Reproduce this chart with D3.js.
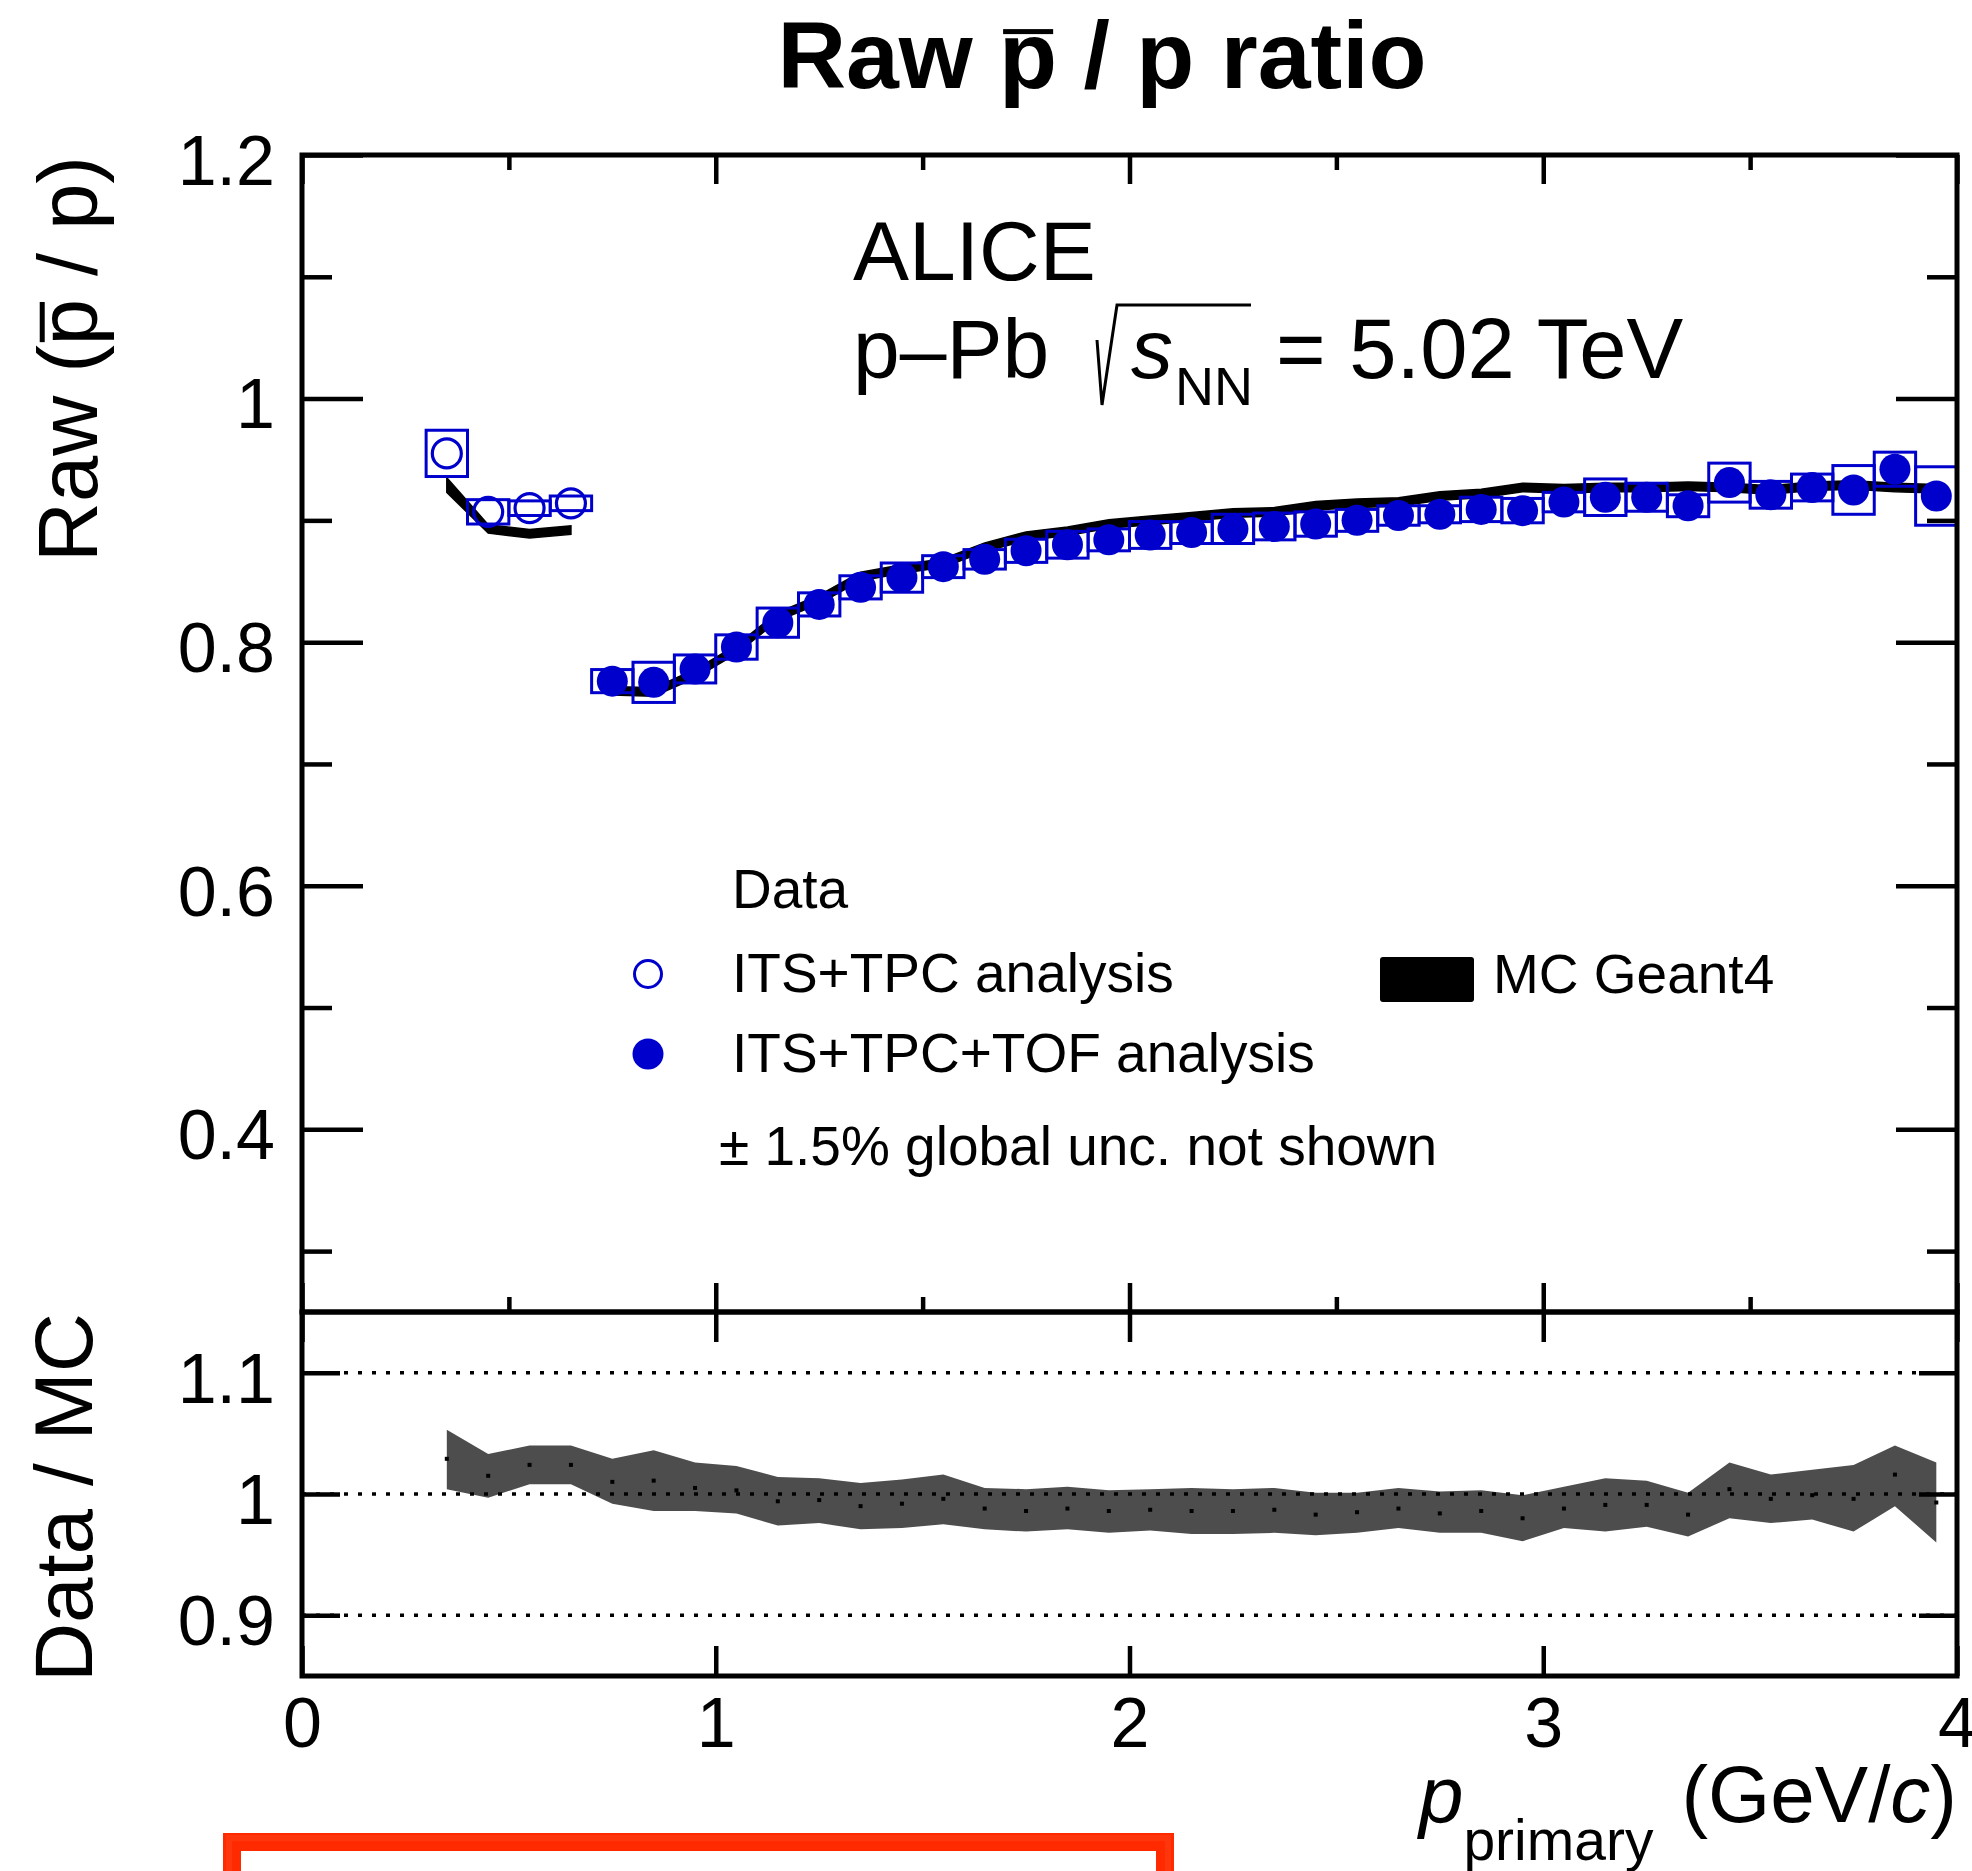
<!DOCTYPE html>
<html><head><meta charset="utf-8">
<script src="https://cdn.jsdelivr.net/npm/d3@7"></script>
<style>body{margin:0;background:#fff} svg{display:block}</style>
</head><body>
<svg id="c" width="1972" height="1871"></svg>
<script>
// ---------------- DATA ----------------
// ITS+TPC analysis (open circles)
const pOpen      = [0.35, 0.45, 0.55, 0.65];
const ratioOpen  = [0.955, 0.907, 0.910, 0.914];
const sysOpen    = [0.019, 0.010, 0.006, 0.006];
// ITS+TPC+TOF analysis (filled circles)
const pFilled = [0.75,0.85,0.95,1.05,1.15,1.25,1.35,1.45,1.55,1.65,1.75,1.85,1.95,2.05,2.15,2.25,2.35,
                 2.45,2.55,2.65,2.75,2.85,2.95,3.05,3.15,3.25,3.35,3.45,3.55,3.65,3.75,3.85,3.95];
const ratioFilled = [0.768,0.767,0.778,0.796,0.816,0.831,0.845,0.853,0.862,0.868,0.875,0.880,0.884,0.888,0.890,0.893,0.895,
                     0.897,0.900,0.904,0.905,0.909,0.908,0.915,0.919,0.919,0.912,0.931,0.921,0.927,0.925,0.942,0.920];
const sysFilled = [0.0095,0.0165,0.0115,0.010,0.012,0.0095,0.0095,0.012,0.009,0.008,0.0095,0.011,0.009,0.011,0.009,0.012,0.011,
                   0.010,0.009,0.008,0.007,0.010,0.010,0.008,0.015,0.0115,0.009,0.016,0.011,0.011,0.020,0.014,0.024];
// MC Geant4 band
const mcOpen     = [0.929, 0.893, 0.889, 0.892];
const mcOpenErr  = [0.006, 0.0035, 0.0035, 0.0035];
const mcFilled   = [0.760,0.759,0.774,0.794,0.821,0.835,0.854,0.860,0.865,0.878,0.887,0.891,0.897,0.900,0.903,0.906,0.907,
                    0.912,0.914,0.915,0.920,0.922,0.927,0.926,0.927,0.927,0.928,0.927,0.925,0.928,0.929,0.927,0.926];
const mcFilledErr = 0.0035;
// Data / MC ratio
const pRatio = [0.35,0.45,0.55,0.65,0.75,0.85,0.95,1.05,1.15,1.25,1.35,1.45,1.55,1.65,1.75,1.85,1.95,2.05,2.15,
                2.25,2.35,2.45,2.55,2.65,2.75,2.85,2.95,3.05,3.15,3.25,3.35,3.45,3.55,3.65,3.75,3.85,3.95];
const dmVal  = [1.029,1.015,1.024,1.024,1.010,1.011,1.005,1.003,0.994,0.995,0.990,0.992,0.996,0.988,0.986,0.988,0.986,0.987,0.986,
                0.986,0.987,0.983,0.985,0.988,0.984,0.986,0.980,0.988,0.991,0.991,0.983,1.004,0.996,0.999,0.996,1.016,0.993];
const dmHigh = [1.053,1.033,1.040,1.040,1.029,1.036,1.026,1.023,1.014,1.013,1.009,1.012,1.016,1.005,1.004,1.006,1.003,1.004,1.005,
                1.004,1.005,1.001,1.001,1.005,1.002,1.003,0.999,1.006,1.013,1.011,1.001,1.026,1.016,1.020,1.024,1.040,1.026];
const dmLow  = [1.004,0.997,1.008,1.008,0.992,0.986,0.986,0.984,0.974,0.976,0.971,0.972,0.975,0.971,0.969,0.971,0.968,0.970,0.967,
                0.967,0.968,0.966,0.968,0.972,0.968,0.968,0.961,0.972,0.969,0.973,0.965,0.980,0.976,0.979,0.969,0.990,0.960];
// Axis ticks
const xMajor = [0,1,2,3,4];
const xMinor = [0.5,1.5,2.5,3.5];
const yTopMajor = [0.4,0.6,0.8,1,1.2];
const yTopMinor = [0.3,0.5,0.7,0.9,1.1];
const yBotMajor = [0.9,1,1.1];
const xTickLabels = ["0","1","2","3","4"];
const yTopLabels = ["0.4","0.6","0.8","1","1.2"];
const yBotLabels = ["0.9","1","1.1"];

// ---------------- DRAW ----------------
const FONT = '"Liberation Sans", Arial, Helvetica, sans-serif';
const BLUE = "#0000cc";
const svg = d3.select("#c");
svg.append("rect").attr("width",1972).attr("height",1871).attr("fill","#fff");

const x  = d3.scaleLinear().domain([0,4]).range([302,1957]);
const yT = d3.scaleLinear().domain([0.25,1.2]).range([1312,155]);
const yB = d3.scaleLinear().domain([0.85,1.15]).range([1676,1312]);

// --- top panel: MC band
function band(xs, v, e, ys){
  const idx = d3.range(xs.length);
  return d3.area().x(i=>x(xs[i]))
    .y0(i=>ys(v[i]-(Array.isArray(e)?e[i]:e)))
    .y1(i=>ys(v[i]+(Array.isArray(e)?e[i]:e)))(idx);
}
svg.append("path").attr("d", band(pOpen, mcOpen, mcOpenErr, yT)).attr("fill","#000").attr("stroke","#000").attr("stroke-width",1.5);
svg.append("path").attr("d", band(pFilled, mcFilled, mcFilledErr, yT)).attr("fill","#000").attr("stroke","#000").attr("stroke-width",1.5);

// --- systematic boxes
function boxes(ps, vs, ss){
  svg.append("g").selectAll("rect").data(ps).join("rect")
    .attr("x",(p)=>x(p-0.05)).attr("width",(p)=>x(p+0.05)-x(p-0.05))
    .attr("y",(p,i)=>yT(vs[i]+ss[i])).attr("height",(p,i)=>yT(vs[i]-ss[i])-yT(vs[i]+ss[i]))
    .attr("fill","none").attr("stroke",BLUE).attr("stroke-width",3);
}
boxes(pOpen, ratioOpen, sysOpen);
boxes(pFilled, ratioFilled, sysFilled);

// --- markers
svg.append("g").selectAll("circle").data(pOpen).join("circle")
  .attr("cx",p=>x(p)).attr("cy",(p,i)=>yT(ratioOpen[i])).attr("r",14.5)
  .attr("fill","#fff").attr("fill-opacity",0).attr("stroke",BLUE).attr("stroke-width",3.2);
svg.append("g").selectAll("circle").data(pFilled).join("circle")
  .attr("cx",p=>x(p)).attr("cy",(p,i)=>yT(ratioFilled[i])).attr("r",15.5)
  .attr("fill",BLUE);

// --- bottom panel: ratio band
svg.append("path").attr("d", d3.area().x(i=>x(pRatio[i])).y0(i=>yB(dmLow[i])).y1(i=>yB(dmHigh[i]))(d3.range(pRatio.length)))
  .attr("fill","#4d4d4d");
// dotted reference lines
svg.append("g").selectAll("line").data(yBotMajor).join("line")
  .attr("x1",x(0)).attr("x2",x(4)).attr("y1",d=>yB(d)).attr("y2",d=>yB(d))
  .attr("stroke","#000").attr("stroke-width",3.5).attr("stroke-dasharray","4,10");
// ratio central points
svg.append("g").selectAll("rect").data(pRatio).join("rect")
  .attr("x",p=>x(p)-2).attr("y",(p,i)=>yB(dmVal[i])-2).attr("width",4).attr("height",4).attr("fill","#000");

// --- axes
function styleAxis(g, showLabels){
  g.select(".domain").remove();
  g.selectAll(".tick line").attr("stroke","#000").attr("stroke-width",4.5);
  g.selectAll("text").attr("font-family",FONT).attr("font-size",70).attr("fill","#000");
  if(!showLabels) g.selectAll("text").remove();
}
const fmt = (vals, labs) => (d => labs[vals.indexOf(d)]);
// top panel
let g;
g = svg.append("g").attr("transform","translate(302,0)")
  .call(d3.axisLeft(yT).tickValues(yTopMajor).tickSize(-61).tickPadding(27).tickFormat(fmt(yTopMajor,yTopLabels)));
styleAxis(g,true); g.selectAll("text").attr("dy","0.42em");
g = svg.append("g").attr("transform","translate(302,0)").call(d3.axisLeft(yT).tickValues(yTopMinor).tickSize(-30));
styleAxis(g,false);
g = svg.append("g").attr("transform","translate(1957,0)").call(d3.axisRight(yT).tickValues(yTopMajor).tickSize(-61));
styleAxis(g,false);
g = svg.append("g").attr("transform","translate(1957,0)").call(d3.axisRight(yT).tickValues(yTopMinor).tickSize(-30));
styleAxis(g,false);
g = svg.append("g").attr("transform","translate(0,155)").call(d3.axisTop(x).tickValues(xMajor).tickSize(-29));
styleAxis(g,false);
g = svg.append("g").attr("transform","translate(0,155)").call(d3.axisTop(x).tickValues(xMinor).tickSize(-15));
styleAxis(g,false);
g = svg.append("g").attr("transform","translate(0,1312)").call(d3.axisBottom(x).tickValues(xMajor).tickSize(-29));
styleAxis(g,false);
g = svg.append("g").attr("transform","translate(0,1312)").call(d3.axisBottom(x).tickValues(xMinor).tickSize(-15));
styleAxis(g,false);
// bottom panel
g = svg.append("g").attr("transform","translate(302,0)")
  .call(d3.axisLeft(yB).tickValues(yBotMajor).tickSize(-38).tickPadding(27).tickFormat(fmt(yBotMajor,yBotLabels)));
styleAxis(g,true); g.selectAll("text").attr("dy","0.42em");
g = svg.append("g").attr("transform","translate(1957,0)").call(d3.axisRight(yB).tickValues(yBotMajor).tickSize(-38));
styleAxis(g,false);
g = svg.append("g").attr("transform","translate(0,1312)").call(d3.axisTop(x).tickValues(xMajor).tickSize(-30));
styleAxis(g,false);
g = svg.append("g").attr("transform","translate(0,1676)")
  .call(d3.axisBottom(x).tickValues(xMajor).tickSize(-30).tickPadding(21).tickFormat(fmt(xMajor,xTickLabels)));
styleAxis(g,true);

// frames
svg.append("rect").attr("x",x(0)).attr("y",yT(1.2)).attr("width",x(4)-x(0)).attr("height",yT(0.25)-yT(1.2))
  .attr("fill","none").attr("stroke","#000").attr("stroke-width",5);
svg.append("rect").attr("x",x(0)).attr("y",yB(1.15)).attr("width",x(4)-x(0)).attr("height",yB(0.85)-yB(1.15))
  .attr("fill","none").attr("stroke","#000").attr("stroke-width",5);

// --- texts
function txt(parent, s, xx, yy, size, opts={}){
  const t = parent.append("text").attr("x",xx).attr("y",yy).attr("font-family",FONT).attr("font-size",size)
    .attr("fill","#000").text(s);
  if(opts.anchor) t.attr("text-anchor",opts.anchor);
  if(opts.bold) t.attr("font-weight","bold");
  if(opts.italic) t.attr("font-style","italic");
  return t;
}
// Title with overline on the first p
const title = txt(svg, "Raw p / p ratio", 1102, 88, 95, {anchor:"middle", bold:true});
{
  const n = title.node();
  const a = n.getStartPositionOfChar(4), b = n.getEndPositionOfChar(4);
  svg.append("rect").attr("x",a.x+4).attr("y",88-0.62*95).attr("width",b.x-a.x-8).attr("height",5).attr("fill","#000");
}
// Y title top panel
{
  const gy = svg.append("g").attr("transform","translate(97,156) rotate(-90)");
  const t = txt(gy, "Raw (p / p)", 0, 0, 83, {anchor:"end"});
  const n = t.node();
  const a = n.getStartPositionOfChar(5), b = n.getEndPositionOfChar(5);
  gy.append("rect").attr("x",a.x+3).attr("y",-0.66*83-2.5).attr("width",b.x-a.x-6).attr("height",5).attr("fill","#000");
}
// Y title bottom panel
{
  const gy = svg.append("g").attr("transform","translate(92,1313) rotate(-90)");
  txt(gy, "Data / MC", 0, 0, 82, {anchor:"end"});
}
// X title
{
  const t = svg.append("text").attr("x",1957).attr("y",1822).attr("text-anchor","end")
    .attr("font-family",FONT).attr("font-size",80).attr("fill","#000");
  t.append("tspan").attr("font-style","italic").text("p");
  t.append("tspan").attr("font-size",57).attr("dy",38).attr("dx",0).text("primary");
  t.append("tspan").attr("dy",-38).attr("dx",28).text("(GeV/");
  t.append("tspan").attr("font-style","italic").text("c");
  t.append("tspan").text(")");
}
// ALICE label
txt(svg, "ALICE", 853, 280, 84);
txt(svg, "p\u2013Pb", 853, 378, 84);
svg.append("path").attr("d","M1097,340 L1102,405 L1117,305 L1251,305").attr("fill","none")
  .attr("stroke","#000").attr("stroke-width",3);
txt(svg, "s", 1131, 378, 84, {italic:true});
txt(svg, "NN", 1175, 405, 54);
txt(svg, "= 5.02 TeV", 1276, 378, 85);

// Legend
txt(svg, "Data", 732, 908, 55);
svg.append("circle").attr("cx",648).attr("cy",974).attr("r",13.5).attr("fill","none").attr("stroke",BLUE).attr("stroke-width",3);
txt(svg, "ITS+TPC analysis", 732, 992, 55);
svg.append("circle").attr("cx",648).attr("cy",1054).attr("r",15.5).attr("fill",BLUE);
txt(svg, "ITS+TPC+TOF analysis", 732, 1072, 55);
svg.append("rect").attr("x",1380).attr("y",957).attr("width",94).attr("height",45).attr("rx",3).attr("fill","#000");
txt(svg, "MC Geant4", 1493, 993, 55);
txt(svg, "\u00B1 1.5% global unc. not shown", 719, 1165, 55);

// red marker box at bottom
svg.append("rect").attr("x",232).attr("y",1842).attr("width",933).attr("height",120)
  .attr("fill","none").attr("stroke","#ff2a00").attr("stroke-width",18);
svg.append("rect").attr("x",229).attr("y",1838).attr("width",939).attr("height",120)
  .attr("fill","none").attr("stroke","#ff3a10").attr("stroke-width",6).attr("stroke-opacity",0.7);
</script>
</body></html>
